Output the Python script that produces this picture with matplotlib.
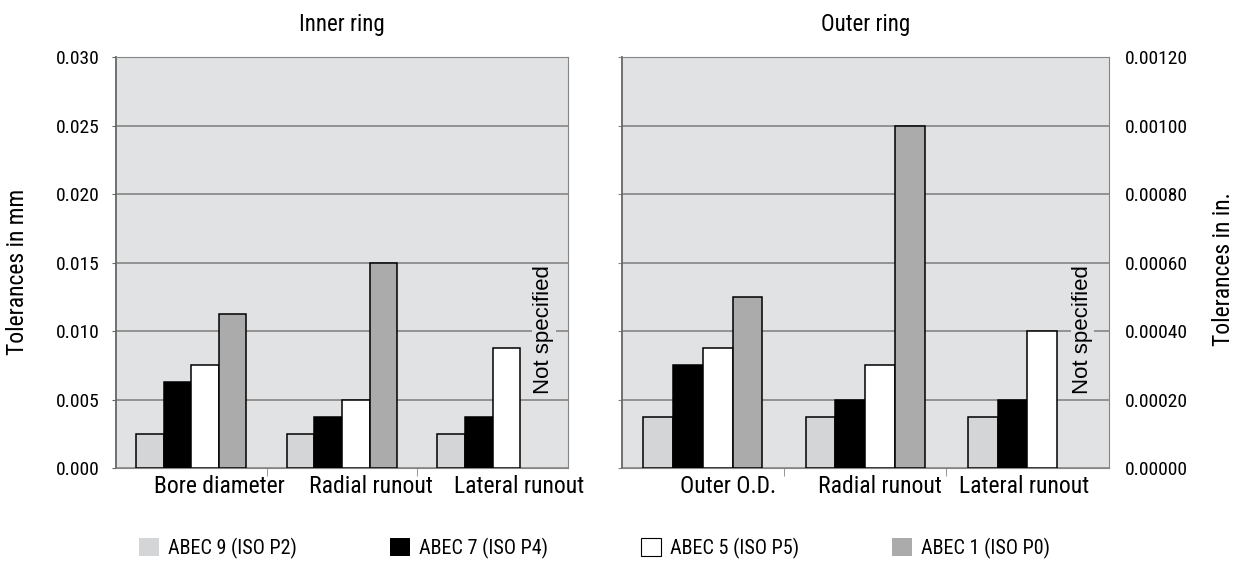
import numpy as np
import matplotlib
matplotlib.use("Agg")
import matplotlib.pyplot as plt
import matplotlib.transforms as mtransforms
from matplotlib.ticker import FixedLocator, FormatStrFormatter

plt.rcParams["font.family"] = ["Roboto Condensed", "Roboto", "DejaVu Sans"]

# data
inner_categories = ["Bore diameter", "Radial runout", "Lateral runout"]
outer_categories = ["Outer O.D.", "Radial runout", "Lateral runout"]
series_labels = ["ABEC 9 (ISO P2)", "ABEC 7 (ISO P4)", "ABEC 5 (ISO P5)", "ABEC 1 (ISO P0)"]

# inner ring tolerances, mm (nan = not specified)
inner_abec9 = [0.0025, 0.0025, 0.0025]
inner_abec7 = [0.00625, 0.00375, 0.00375]
inner_abec5 = [0.0075, 0.005, 0.00875]
inner_abec1 = [0.01125, 0.015, np.nan]

# outer ring tolerances, inches
outer_abec9 = [0.00015, 0.00015, 0.00015]
outer_abec7 = [0.0003, 0.0002, 0.0002]
outer_abec5 = [0.00035, 0.0003, 0.0004]
outer_abec1 = [0.0005, 0.0010, np.nan]

colors = ["#d4d5d7", "#000000", "#ffffff", "#ababab"]
BG = "#e1e2e4"
GRID = "#858585"
BAR_W = 0.183


def draw_panel(fig, ax, cats, series, ymax, step, title, na_y, label_shift):
    ax.set_facecolor(BG)
    x = np.arange(len(cats))
    offsets = (np.arange(4) - 1.5) * BAR_W
    bars = []
    for vals, off, c, lab in zip(series, offsets, colors, series_labels):
        b = ax.bar(x + off, vals, BAR_W, color=c, edgecolor="black",
                   linewidth=1.1, label=lab, zorder=3)
        bars.append(b)
    ax.set_xlim(-0.5, len(cats) - 0.5)
    ax.set_ylim(0, ymax)
    ax.yaxis.set_major_locator(FixedLocator(np.arange(0, ymax + step / 2, step)))
    ax.grid(axis="y", color=GRID, linewidth=1.2, zorder=1)
    ax.set_axisbelow(True)
    ax.set_xticks(x)
    ax.set_xticklabels(cats, fontsize=17)
    ax.tick_params(axis="x", which="major", length=0, pad=5)
    # labels sit a bit off-centre in the original
    for lbl, dx in zip(ax.get_xticklabels(), label_shift):
        lbl.set_transform(lbl.get_transform() +
                          mtransforms.ScaledTranslation(dx / 100, 0, fig.dpi_scale_trans))
    ax.set_xticks(np.arange(0.5, len(cats) - 0.5, 1.0), minor=True)
    ax.tick_params(axis="x", which="minor", length=6, color=GRID)
    for side in ["top", "right"]:
        ax.spines[side].set_color(GRID)
    ax.spines["left"].set_color("#666666")
    ax.spines["left"].set_linewidth(1.3)
    ax.spines["bottom"].set_color(GRID)
    ax.set_title(title, fontsize=16.5, pad=19)
    # "Not specified" in the slot of the missing ABEC 1 bar
    ax.text(len(cats) - 1 + offsets[3] + 0.065, na_y, "Not specified", rotation=90,
            ha="center", va="center", fontsize=16, family="Liberation Sans",
            bbox=dict(facecolor=BG, edgecolor="none", pad=1), zorder=2)
    return bars


fig = plt.figure(figsize=(12.35, 5.73), dpi=100)
ax1 = fig.add_axes([0.0939, 0.1832, 0.366, 0.7173])
ax2 = fig.add_axes([0.5034, 0.1832, 0.3943, 0.7173])

bars = draw_panel(fig, ax1, inner_categories,
                  [inner_abec9, inner_abec7, inner_abec5, inner_abec1],
                  0.030, 0.005, "Inner ring", 0.0101, [28, 29, 26])
draw_panel(fig, ax2, outer_categories,
           [outer_abec9, outer_abec7, outer_abec5, outer_abec1],
           0.0012, 0.0002, "Outer ring", 0.000403, [25, 15, -3])

ax1.yaxis.set_major_formatter(FormatStrFormatter("%.3f"))
ax1.tick_params(axis="y", length=3, color="#666666", pad=9, labelsize=14)
ax1.set_ylabel("Tolerances in mm", fontsize=17)
ax1.yaxis.set_label_coords(-0.1925, 0.478)

ax2.yaxis.set_major_formatter(FormatStrFormatter("%.5f"))
ax2.tick_params(axis="y", left=True, right=False, labelleft=False,
                labelright=True, length=3, color=GRID, pad=9, labelsize=14)
ax2.yaxis.set_label_position("right")
ax2.set_ylabel("Tolerances in in.", fontsize=17)
ax2.yaxis.set_label_coords(1.212, 0.485)

fig.legend(handles=bars, labels=series_labels, loc="center", ncol=4,
           bbox_to_anchor=(0.4814, 0.043), frameon=False, fontsize=14.5,
           handlelength=1.0, handleheight=1.0, handletextpad=0.45,
           columnspacing=4.6)
for h in fig.legends[0].legend_handles:
    h.set_linewidth(0.8)
    if h.get_facecolor()[:3] != (1.0, 1.0, 1.0):
        h.set_edgecolor("none")

fig.savefig("out.png", dpi=100)
